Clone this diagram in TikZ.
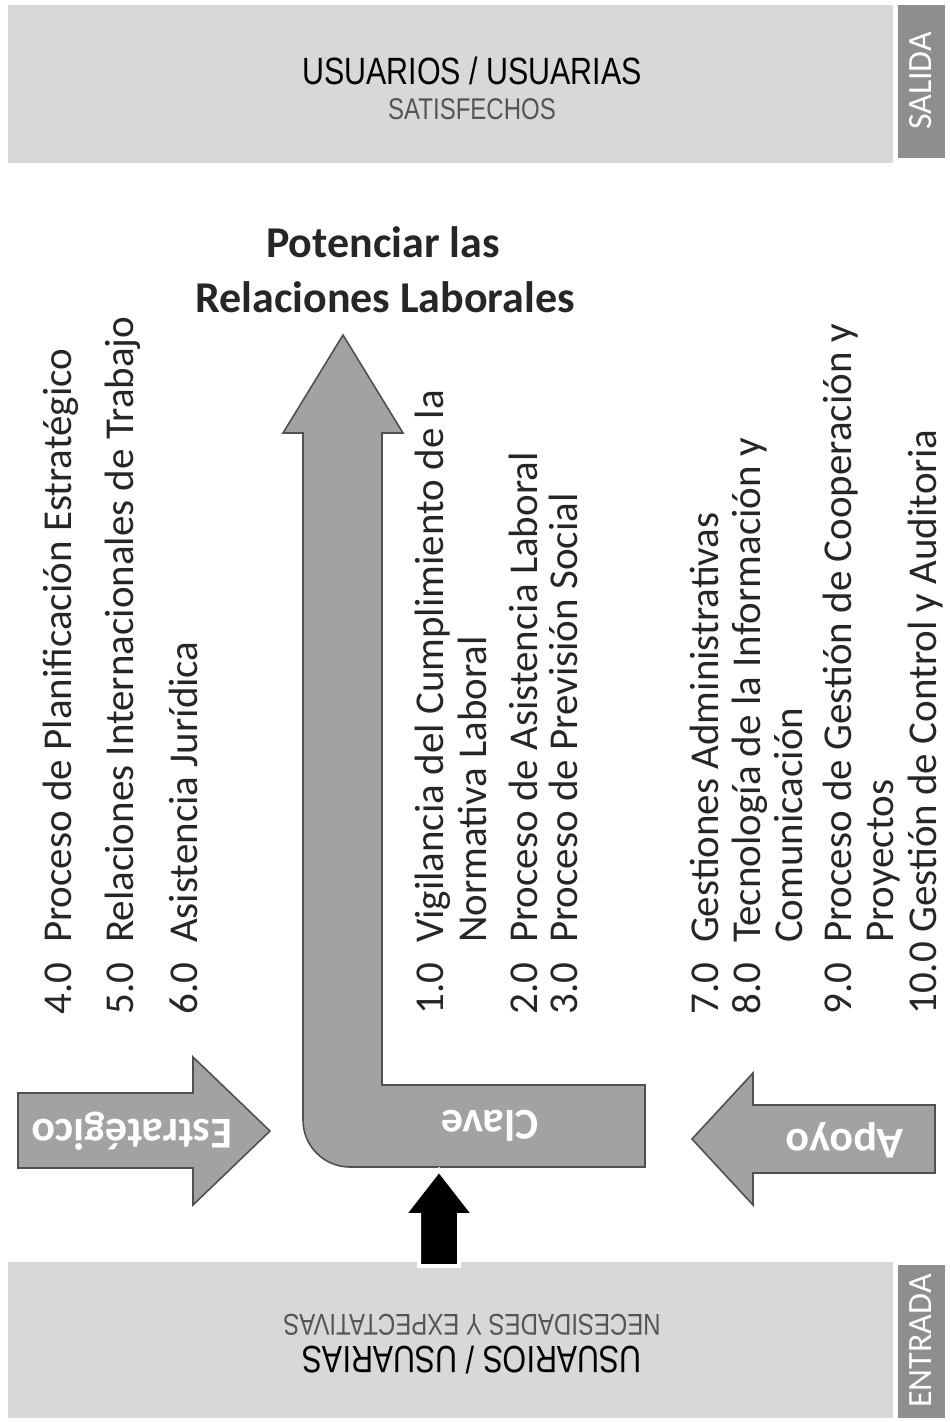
\documentclass[tikz,border=0pt]{standalone}
\usepackage{fontspec}
\setmainfont{Carlito}
\newfontfamily\arialfont[FakeStretch=0.8]{Liberation Sans}
\usepackage{xcolor}
\usepackage{tikz}
\usetikzlibrary{arrows}
\definecolor{boxgray}{HTML}{D8D8D8}
\definecolor{tabgray}{HTML}{8E8E8E}
\definecolor{arrowgray}{HTML}{A2A2A2}
\definecolor{arrowline}{HTML}{505050}
\definecolor{subgray}{HTML}{555555}
\newcommand{\procnum}[1]{\makebox[1.75em][l]{#1}}
\tikzset{
    band_box/.style = {fill=boxgray, draw=none},
    side_tab/.style = {fill=tabgray, draw=none},
    tab_text/.style = {text=white, rotate=90, inner sep=0pt, font=\fontsize{17}{19}\selectfont},
    head_text/.style = {anchor=base, inner sep=0pt, font=\arialfont\fontsize{19}{22}\selectfont},
    sub_text/.style = {anchor=base, inner sep=0pt, text=subgray, font=\arialfont\fontsize{15}{18}\selectfont}
}
\tikzset{
    block_arrow/.style = {fill=arrowgray, draw=arrowline, line width=0.8pt, line join=miter},
    arrow_text/.style = {text=white, rotate=180, inner sep=0pt, font=\bfseries\fontsize{22}{26}\selectfont},
    goal_text/.style = {anchor=base, inner sep=0pt, text=black!85, font=\bfseries\fontsize{22}{26}\selectfont},
    proc_item/.style = {rotate=90, anchor=base west, inner sep=0pt, text=black!85, font=\fontsize{20.5}{25}\selectfont}
}

\begin{document}
\begin{tikzpicture}[x=0.5pt, y=-0.5pt, >=stealth']
    \useasboundingbox (0,0) rectangle (949,1422);
    % salida
    \fill[band_box] (8,5) rectangle (893,163);
    \fill[side_tab] (898,5) rectangle (945,158);
    \node (out_title) [head_text] at (472,85) {USUARIOS / USUARIAS};
    \node (out_sub) [sub_text] at (472,120) {SATISFECHOS};
    \node (out_tab) [tab_text] at (921,81) {SALIDA};
    % entrada
    \fill[band_box] (8,1262) rectangle (893,1418);
    \fill[side_tab] (898,1265) rectangle (945,1418);
    \node (in_title) [head_text, anchor=center, rotate=180] at (472,1360) {USUARIOS / USUARIAS};
    \node (in_sub) [sub_text, anchor=center, rotate=180] at (472,1325) {NECESIDADES Y EXPECTATIVAS};
    \node (in_tab) [tab_text] at (921,1341) {ENTRADA};

    \node (goal_a) [goal_text] at (383,258) {Potenciar las};
    \node (goal_b) [goal_text] at (385,313) {Relaciones Laborales};

    % clave
    \filldraw[block_arrow] (382,433) -- (382,1085) -- (645,1085) -- (645,1167) -- (350,1167)
        .. controls (324,1167) and (303,1146) .. (303,1120) -- (303,433) -- (283,433)
        -- (343,335) -- (403,433) -- cycle;
    \node (clave) [arrow_text] at (490,1126) {Clave};
    % estrategico
    \filldraw[block_arrow] (18,1093) -- (193,1093) -- (193,1057) -- (270,1131) -- (193,1205)
        -- (193,1168) -- (18,1168) -- cycle;
    \node (estr) [arrow_text] at (132,1131) {Estratégico};
    % apoyo
    \filldraw[block_arrow] (935,1105) -- (753,1105) -- (753,1073) -- (692,1139) -- (753,1205)
        -- (753,1173) -- (935,1173) -- cycle;
    \node (apoyo) [arrow_text] at (845,1140) {Apoyo};
    % entrada arrow
    \filldraw[fill=black, draw=white, line width=2pt, line join=miter] (419,1266) -- (419,1215)
        -- (404,1215) -- (439,1170) -- (474,1215) -- (459,1215) -- (459,1266) -- cycle;

    % estrategicos
    \node (p4) [proc_item] at (71,1015) {\procnum{4.0}Proceso de Planificación Estratégico};
    \node (p5) [proc_item] at (133,1015) {\procnum{5.0}Relaciones Internacionales de Trabajo};
    \node (p6) [proc_item] at (197,1015) {\procnum{6.0}Asistencia Jurídica};
    % clave
    \node (p1) [proc_item] at (443,1015) {\procnum{1.0}Vigilancia del Cumplimiento de la};
    \node (p1b) [proc_item] at (486,1015) {\procnum{}Normativa Laboral};
    \node (p2) [proc_item] at (537,1015) {\procnum{2.0}Proceso de Asistencia Laboral};
    \node (p3) [proc_item] at (577,1015) {\procnum{3.0}Proceso de Previsión Social};
    % apoyo
    \node (p7) [proc_item] at (718,1015) {\procnum{7.0}Gestiones Administrativas};
    \node (p8) [proc_item] at (760,1015) {\procnum{8.0}Tecnología de la Información y};
    \node (p8b) [proc_item] at (802,1015) {\procnum{}Comunicación};
    \node (p9) [proc_item] at (851,1015) {\procnum{9.0}Proceso de Gestión de Cooperación y};
    \node (p9b) [proc_item] at (893,1015) {\procnum{}Proyectos};
    \node (p10) [proc_item] at (936,1015) {10.0 Gestión de Control y Auditoria};
\end{tikzpicture}
\end{document}
